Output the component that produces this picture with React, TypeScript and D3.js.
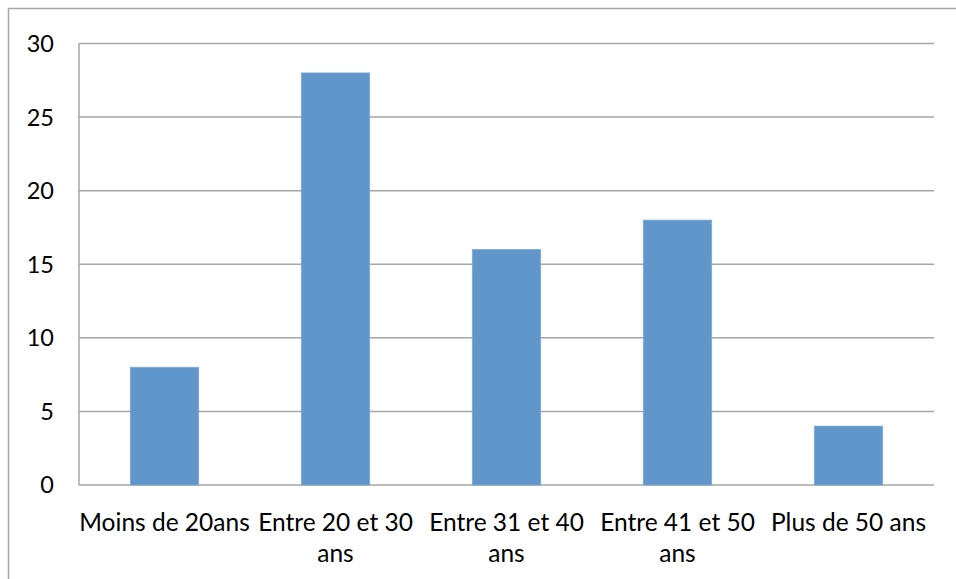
import React from "react";
import * as d3 from "d3";

const categories = ["Moins de 20ans", "Entre 20 et 30 ans", "Entre 31 et 40 ans", "Entre 41 et 50 ans", "Plus de 50 ans"];
const labelLines = [["Moins de 20ans"], ["Entre 20 et 30", "ans"], ["Entre 31 et 40", "ans"], ["Entre 41 et 50", "ans"], ["Plus de 50 ans"]];
const values = [8, 28, 16, 18, 4];
const yTicks = [0, 5, 10, 15, 20, 25, 30];

export default function App() {
  const W = 956, H = 579;
  const left = 79, right = 934, top = 43.5, bottom = 485;
  const x = d3.scaleBand<string>().domain(categories).range([left, right]).paddingInner(0.6).paddingOuter(0.3);
  const y = d3.scaleLinear().domain([0, 30]).range([bottom, top]);
  const font = "Lato, 'Open Sans', sans-serif";
  return (
    <svg width={W} height={H} style={{ position: "absolute", left: 0, top: 0, background: "#fff" }}>
      <rect x={8.5} y={8.5} width={W + 10} height={H + 10} fill="#fff" stroke="#a6a6a6" strokeWidth={1.5} />
      {yTicks.map((t) => (
        <g key={t}>
          <line x1={left} x2={right} y1={y(t)} y2={y(t)} stroke="#a6a6a6" strokeWidth={1.5} />
          <text x={54} y={y(t)} dy="0.36em" textAnchor="end" fontFamily={font} fontSize={23.5} fill="#000">{t}</text>
        </g>
      ))}
      <line x1={left} x2={left} y1={top} y2={bottom} stroke="#a6a6a6" strokeWidth={1.5} />
      {categories.map((c, i) => (
        <rect key={c} x={x(c)} y={y(values[i])} width={x.bandwidth()} height={bottom - y(values[i])} fill="#6096c9" stroke="#7ea9d6" strokeWidth={0.8} />
      ))}
      {categories.map((c, i) => (
        <text key={c} x={(x(c) as number) + x.bandwidth() / 2} y={522} textAnchor="middle" fontFamily={font} fontSize={24.5} fill="#000">
          {labelLines[i].map((l, j) => (
            <tspan key={j} x={(x(c) as number) + x.bandwidth() / 2} dy={j === 0 ? "0.36em" : 31}>{l}</tspan>
          ))}
        </text>
      ))}
    </svg>
  );
}
